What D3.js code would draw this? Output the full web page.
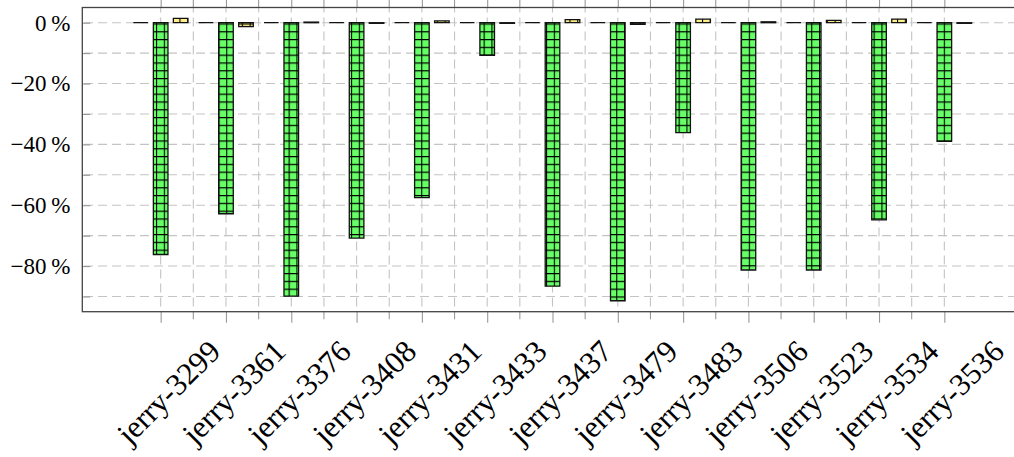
<!DOCTYPE html>
<html>
<head>
<meta charset="utf-8">
<script src="https://cdn.jsdelivr.net/npm/d3@7"></script>
<style>
  html, body { margin: 0; padding: 0; background: #fff; }
  svg { display: block; }
</style>
</head>
<body>
<svg id="chart" width="1014" height="457"></svg>
<script>
// Relative change per host, three runs side by side.
const categories = ["jerry-3299", "jerry-3361", "jerry-3376", "jerry-3408", "jerry-3431",
  "jerry-3433", "jerry-3437", "jerry-3479", "jerry-3483", "jerry-3506",
  "jerry-3523", "jerry-3534", "jerry-3536"];
const baselineRun = [0, 0, 0, 0, 0, 0, 0, 0, 0, 0, 0, 0, 0];
const optimizedRun = [-76.2, -62.8, -89.9, -70.8, -57.5, -10.7, -86.6, -91.4, -36.1, -81.3, -81.3, -64.8, -39.0];
const controlRun = [1.4, -1.3, 0.2, -0.2, 0.6, -0.2, 1.0, -0.5, 1.2, 0.3, 0.8, 1.2, -0.2];
const yLabelTicks = [-80, -60, -40, -20, 0];
const yGridTicks = [-90, -80, -70, -60, -50, -40, -30, -20, -10, 0];

const series = [
  { name: "baseline", values: baselineRun, offset: -20, fill: "#6666ff", pattern: null },
  { name: "optimized", values: optimizedRun, offset: 0, fill: "#66ff66", pattern: "gridGreen" },
  { name: "control", values: controlRun, offset: 20, fill: "#fdf08c", pattern: "gridYellow" }
];

const plotLeft = 82.3, plotRight = 1022.7, plotTop = 7.5, plotBottom = 311.7;
const barWidth = 14.6;

const svg = d3.select("#chart");
const serif = "'Liberation Serif', 'DejaVu Serif', serif";

const x = d3.scalePoint().domain(categories).range([plotLeft, plotRight]).padding(1.2);
const y = d3.scaleLinear().domain([-95, 5]).range([plotBottom, plotTop]);

// grid fill patterns anchored to the page
const defs = svg.append("defs");
[["gridGreen", "#66ff66"], ["gridYellow", "#fdf08c"]].forEach(([id, col]) => {
  const p = defs.append("pattern").attr("id", id)
    .attr("patternUnits", "userSpaceOnUse")
    .attr("x", 0).attr("y", 0).attr("width", 7.8).attr("height", 7.8);
  p.append("rect").attr("width", 7.8).attr("height", 7.8).attr("fill", col);
  p.append("path").attr("d", "M0,0.55H7.8M0.55,0V7.8")
    .attr("stroke", "#000").attr("stroke-width", 1.1).attr("fill", "none");
});

// midpoints between categories for the minor ticks / grid
const step = x.step();
const minorX = categories.slice(0, -1).map(c => x(c) + step / 2);

// grid
const grid = svg.append("g").attr("stroke", "#c4c4c4").attr("stroke-width", 1.1)
  .attr("stroke-dasharray", "9,5").attr("fill", "none");
grid.selectAll("line.h").data(yGridTicks).join("line").attr("class", "h")
  .attr("x1", plotLeft).attr("x2", plotRight)
  .attr("y1", d => y(d)).attr("y2", d => y(d))
  .attr("stroke-dashoffset", 12.3);
grid.selectAll("line.v").data(categories.map(c => x(c)).concat(minorX)).join("line").attr("class", "v")
  .attr("y1", plotTop).attr("y2", plotBottom)
  .attr("x1", d => d).attr("x2", d => d)
  .attr("stroke-dashoffset", 4);

// y axis: inner ticks
svg.append("g").attr("transform", `translate(${plotLeft},0)`)
  .call(d3.axisLeft(y).tickValues(yGridTicks).tickSize(-8).tickFormat(""))
  .call(g => g.select(".domain").remove())
  .call(g => g.selectAll("line").attr("stroke", "#999").attr("stroke-width", 1.1));

// y axis labels
const fmt = d => (d < 0 ? "\u2212" : "") + Math.abs(d) + "\u2009%";
svg.append("g").attr("transform", `translate(${plotLeft},0)`)
  .call(d3.axisLeft(y).tickValues(yLabelTicks).tickSize(0).tickPadding(12).tickFormat(fmt))
  .call(g => g.select(".domain").remove())
  .call(g => g.selectAll("text").attr("font-family", serif).attr("font-size", 23)
    .attr("fill", "#000"));

// bars
series.forEach(s => {
  svg.append("g").selectAll("path").data(categories).join("path")
    .attr("d", (c, i) => {
      const x0 = x(c) + s.offset - barWidth / 2, x1 = x0 + barWidth;
      const y0 = y(0), y1 = y(s.values[i]);
      return `M${x0},${y0}V${y1}H${x1}V${y0}Z`;
    })
    .attr("fill", s.pattern ? `url(#${s.pattern})` : s.fill)
    .attr("stroke", "#111").attr("stroke-width", 1.3);
});

// x axis: major ticks with labels below, minor ticks between
svg.append("g").attr("transform", `translate(0,${plotBottom})`)
  .call(d3.axisBottom(x).tickSize(11).tickPadding(0))
  .call(g => g.select(".domain").remove())
  .call(g => g.selectAll("line").attr("stroke", "#999").attr("stroke-width", 1.1))
  .call(g => g.selectAll("text")
    .attr("font-family", serif).attr("font-size", 31).attr("fill", "#000")
    .attr("text-anchor", "middle").attr("dy", "0.32em")
    .attr("transform", "translate(0,73) rotate(-45)"));

svg.append("g").selectAll("line").data(minorX).join("line")
  .attr("x1", d => d).attr("x2", d => d).attr("y1", plotBottom).attr("y2", plotBottom + 7.6)
  .attr("stroke", "#999").attr("stroke-width", 1.1);

// ticks above the top edge
svg.append("g").attr("transform", `translate(0,${plotTop})`)
  .call(d3.axisTop(x).tickSize(9).tickFormat(""))
  .call(g => g.select(".domain").remove())
  .call(g => g.selectAll("line").attr("stroke", "#999").attr("stroke-width", 1.1));
svg.append("g").selectAll("line").data(minorX).join("line")
  .attr("x1", d => d).attr("x2", d => d).attr("y1", plotTop).attr("y2", plotTop - 9)
  .attr("stroke", "#999").attr("stroke-width", 1.1);

// frame
svg.append("rect").attr("x", plotLeft).attr("y", plotTop)
  .attr("width", plotRight - plotLeft).attr("height", plotBottom - plotTop)
  .attr("fill", "none").attr("stroke", "#444").attr("stroke-width", 1.3);
</script>
</body>
</html>
